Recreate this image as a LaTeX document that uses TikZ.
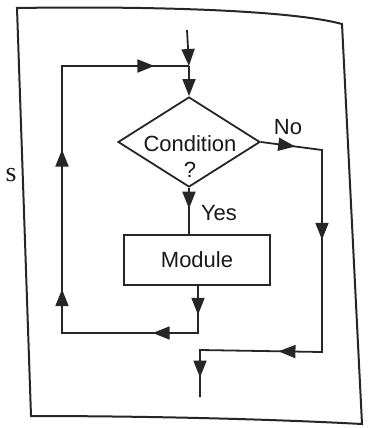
\documentclass[tikz,border=0pt]{standalone}
\usepackage{fontspec}
\setsansfont{Liberation Sans}
\newfontfamily\cutfont{Liberation Serif}
\usetikzlibrary{
		positioning,
		arrows.meta,
		shapes.geometric,
		decorations.markings
	}
\tikzset{
		>={Triangle[length=17pt, width=13pt]}
	}

\begin{document}
\begin{tikzpicture}[x=1pt, y=-1pt,
				flow/.style={line width=1.8pt, draw=black!85},
				tip at/.style={postaction={decorate, decoration={markings, mark=at position #1 with {\arrow{>}}}}},
				test/.style={diamond, draw=black!85, line width=1.8pt, minimum width=142pt, minimum height=90pt, inner sep=0pt},
				block/.style={rectangle, draw=black!85, line width=2pt, minimum width=146pt, minimum height=50pt, inner sep=0pt},
				txt/.style={font=\sffamily\fontsize{22}{26}\selectfont, text=black!90, inner sep=0pt}]
	\useasboundingbox (0,0) rectangle (370,428);
	\draw[line width=2pt, draw=black!85] (17,8) .. controls (150,6) and (290,10) .. (342,24) -- (362,424) .. controls (250,418) and (120,416) .. (31,416) -- cycle;
	\node[txt, font=\cutfont\fontsize{28}{30}\selectfont] (cut) at (11,175) {s};
	\node[test] (cond) at (189,142) {};
	\node[txt, align=center] (condtxt) at (190,157) {Condition\\?};
	\node[block] (mod) at (197,260) {};
	\node[txt] (modtxt) at (mod) {Module};
	\node[txt] (no) at (288,127) {No};
	\node[txt] (yes) at (219,213) {Yes};
	\coordinate (in) at (187,30);
	\coordinate (join) at (189,66);
	\coordinate (tl) at (62,66);
	\coordinate (bl) at (62,333);
	\coordinate (br) at (198,333);
	\coordinate (nr) at (322,150);
	\coordinate (rb) at (322,352);
	\coordinate (ob) at (200,350);
	\coordinate (out) at (200,397);
	\draw[flow, ->] (in) -- (join);
	\draw[flow, ->] (join) -- (cond.north);
	\draw[flow, tip at=0.45] (cond.south) -- (cond.south |- mod.north);
	\draw[flow, tip at=0.05, tip at=0.16, tip at=0.393, tip at=0.635, tip at=0.94] (mod.south -| br) -- (br) -- (bl) -- (tl) -- (join);
	\draw[flow, tip at=0.08, tip at=0.35, tip at=0.71, tip at=0.955] (cond.east) -- (nr) -- (rb) -- (ob) -- (out);
\end{tikzpicture}
\end{document}
